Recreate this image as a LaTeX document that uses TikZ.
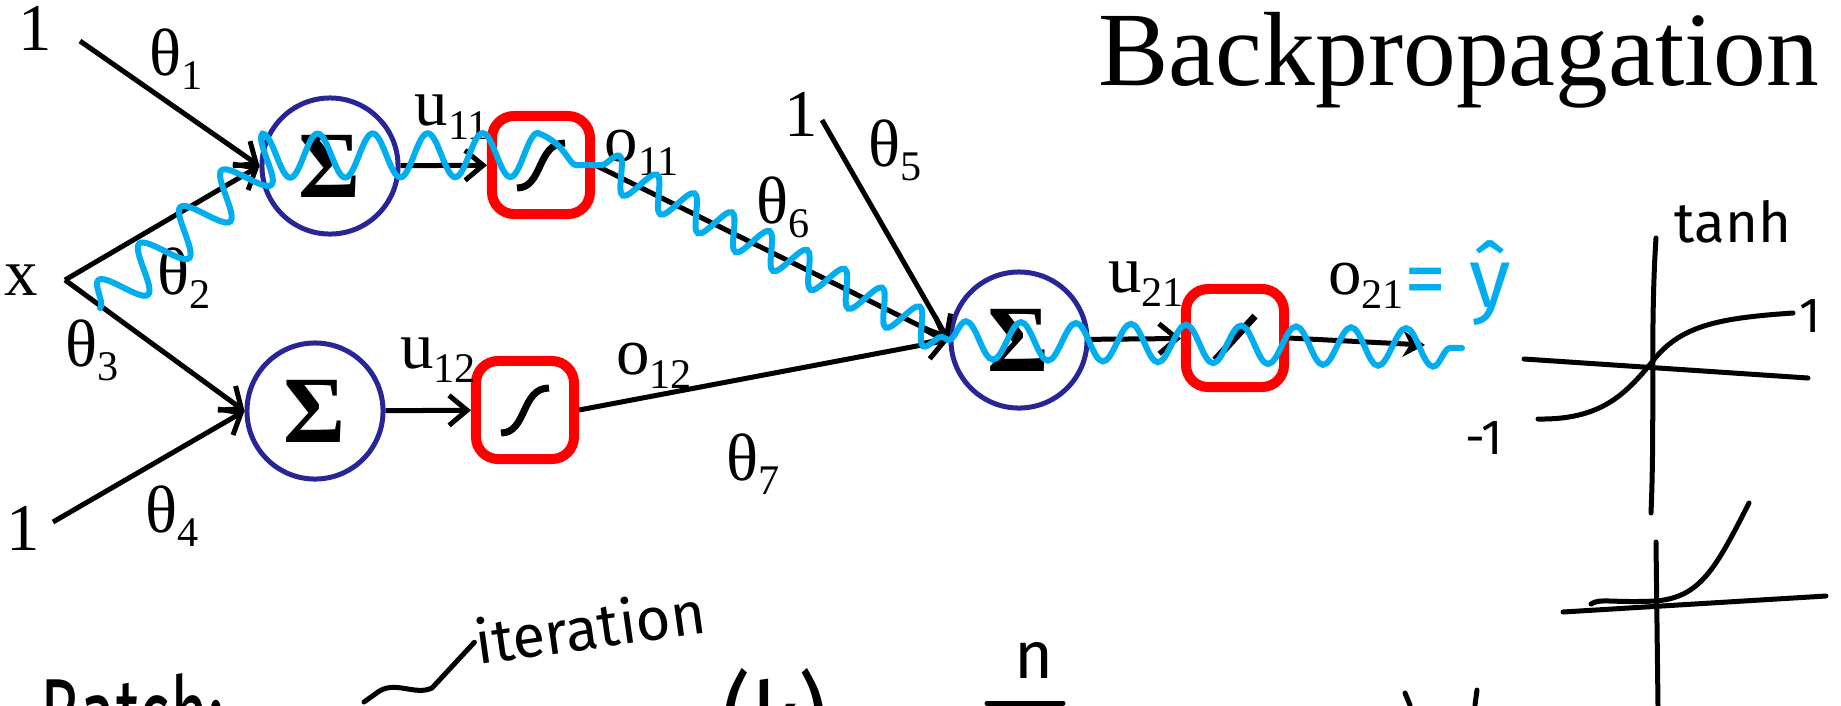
\documentclass[tikz,border=0pt]{standalone}
\usepackage{fontspec}
\setmainfont{Liberation Serif}
\newfontfamily\handfont{Fira Sans}
\usetikzlibrary{arrows.meta, positioning, calc, decorations.pathmorphing}

\definecolor{sumblue}{RGB}{40,38,150}
\definecolor{wavecyan}{RGB}{0,174,239}

\newcommand{\wsub}[1]{\raisebox{-0.45ex}{\fontsize{12}{12}\selectfont #1}}
\newcommand{\sigcurve}[1]{\draw[line width=0.7mm] ([shift={(-24,23)}]#1.center) .. controls ([shift={(2,23)}]#1.center) and ([shift={(-4,-22)}]#1.center) .. ([shift={(24,-22)}]#1.center);}

\tikzset{
  sumnode/.style={circle, draw=sumblue, line width=0.5mm, minimum size=13.6mm, inner sep=0pt, font=\fontsize{27}{27}\selectfont\bfseries},
  actbox/.style={draw=red, line width=1mm, rounded corners=2.2mm, minimum size=9.8mm, inner sep=0pt},
  wire/.style={line width=0.5mm, -{Straight Barb[length=1.8mm,width=3mm]}},
  lbl/.style={font=\fontsize{19}{22}\selectfont, inner sep=0pt},
  hand/.style={line width=0.5mm, line cap=round, line join=round},
  handtext/.style={font=\handfont\mdseries\fontsize{16}{18}\selectfont, inner sep=0pt},
  wave/.style={wavecyan, line width=0.6mm, line cap=round, decorate},
}

\begin{document}
\begin{tikzpicture}[x=0.01cm, y=-0.01cm]
      \useasboundingbox (0,0) rectangle (1841,705);

      % title
      \node[anchor=base east, inner sep=0pt, font=\fontsize{30}{34}\selectfont] (title) at (1820,85) {Backpropagation};

      % inputs
      \node[lbl] (one1) at (35,28) {1};
      \node[lbl] (xlab) at (21,280) {x};
      \node[lbl] (one2) at (23,528) {1};
      \node[lbl] (one3) at (801,114) {1};
      \coordinate (in1) at (80,41);
      \coordinate (xin) at (65,280);
      \coordinate (in4) at (53,522);
      \coordinate (in5) at (822,120);

      % hidden layer
      \node[sumnode] (s11) at (330,166) {Σ};
      \node[sumnode] (s12) at (315,411) {Σ};
      \node[actbox] (b11) at (541,165) {};
      \node[actbox] (b12) at (525,410) {};
      \sigcurve{b11}
      \sigcurve{b12}

      % output layer
      \node[sumnode] (s21) at (1019,340) {Σ};
      \node[actbox] (b21) at (1235,338) {};
      \draw[line width=0.7mm] ([shift={(-20,22)}]b21.center) -- ([shift={(20,-22)}]b21.center);
      \coordinate (yout) at (1425,345);
      \coordinate (wend) at (1462,348);

      % connections
      \draw[wire] (in1) -- (s11.west);
      \draw[wire] (xin) -- (s11.west);
      \draw[wire] (xin) -- (s12.west);
      \draw[wire] (in4) -- (s12.west);
      \draw[wire] (s11) -- (b11);
      \draw[wire] (s12) -- (b12);
      \draw[wire] (b11.east) -- (s21.west);
      \draw[wire] (b12.east) -- (s21.west);
      \draw[wire] (in5) -- (s21.west);
      \draw[wire] (s21) -- (b21);
      \draw[line width=0.5mm, -{Stealth[length=2.2mm,width=2.6mm]}] (b21.east) -- (yout);

      % weights and signals
      \node[lbl] (th1) at (176,59) {θ\wsub{1}};
      \node[lbl] (th2) at (184,278) {θ\wsub{2}};
      \node[lbl] (th3) at (92,350) {θ\wsub{3}};
      \node[lbl] (th4) at (172,516) {θ\wsub{4}};
      \node[lbl] (th5) at (895,150) {θ\wsub{5}};
      \node[lbl] (th6) at (783,207) {θ\wsub{6}};
      \node[lbl] (th7) at (753,464) {θ\wsub{7}};
      \node[lbl] (u11) at (452,117) {u\wsub{11}};
      \node[lbl] (u12) at (438,360) {u\wsub{12}};
      \node[lbl] (u21) at (1146,284) {u\wsub{21}};
      \node[lbl] (o11) at (642,153) {o\wsub{11}};
      \node[lbl] (o12) at (654,366) {o\wsub{12}};
      \node[lbl] (o21) at (1366,286) {o\wsub{21}};

      % backward pass
      \draw[wave, decoration={snake, segment length=5.5mm, amplitude=2.2mm}]
        (100,308) -- (s11.west) -- (600,165);
      \draw[wave, decoration={snake, segment length=4.2mm, amplitude=1.7mm}]
        (600,165) -- (s21.west);
      \draw[wave, decoration={snake, segment length=5.5mm, amplitude=1.9mm}]
        (s21.west) -- (wend);
      \node[handtext, text=wavecyan, font=\handfont\mdseries\fontsize{24}{26}\selectfont] (yhat) at (1458,283) {= ŷ};

      % tanh sketch
      \draw[hand] (1656,238) .. controls (1650,330) and (1655,420) .. (1651,513);
      \draw[hand] (1524,359) -- (1808,378);
      \draw[hand] (1538,419) .. controls (1600,420) and (1625,395) .. (1652,362)
                  .. controls (1680,325) and (1720,318) .. (1793,313);
      \node[handtext] (tanh) at (1733,222) {tanh};
      \node[handtext, font=\handfont\mdseries\fontsize{14}{16}\selectfont] (pone) at (1810,316) {1};
      \node[handtext, font=\handfont\mdseries\fontsize{14}{16}\selectfont] (mone) at (1484,438) {-1};

      % second sketch
      \draw[hand] (1656,542) -- (1658,705);
      \draw[hand] (1563,612) -- (1826,596);
      \draw[hand] (1591,604) .. controls (1600,598) and (1610,603) .. (1656,601)
                  .. controls (1700,597) and (1715,570) .. (1749,503);

      % notes at the bottom
      \node[handtext, anchor=north west, font=\handfont\mdseries\fontsize{30}{32}\selectfont] (batch) at (40,673) {\scalebox{0.62}[1]{Batch:}};
      \node[handtext, rotate=8, font=\handfont\mdseries\fontsize{17}{19}\selectfont] (iter) at (590,626) {iteration};
      \coordinate (hookend) at (364,702);
      \draw[hand] (iter.west) -- (432,688) .. controls (415,696) and (395,680) .. (378,692) -- (hookend);
      \node[handtext, anchor=north, font=\handfont\mdseries\fontsize{20}{22}\selectfont] (kk) at (775,668) {\scalebox{1.3}[1.6]{(k)}};
      \node[handtext, font=\handfont\mdseries\fontsize{19}{21}\selectfont] (nn) at (1034,660) {n};
      \draw[hand] (987,703) -- (1063,703);
      \draw[hand] (1405,693) -- (1410,705);
      \draw[hand] (1477,690) -- (1475,705);
    \end{tikzpicture}
\end{document}
